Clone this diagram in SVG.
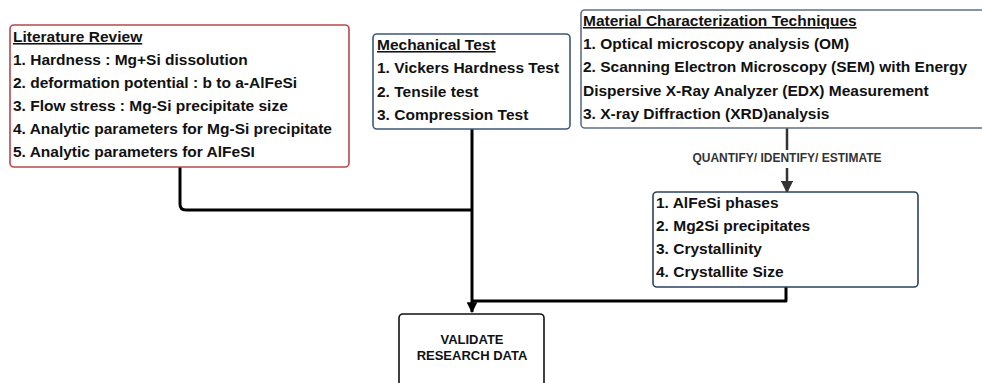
<svg xmlns="http://www.w3.org/2000/svg" width="982" height="383" viewBox="0 0 982 383">
<defs>
<style>
.t{font-family:"Liberation Sans",Arial,sans-serif;font-weight:bold;font-size:15.5px;fill:#111}
.u{text-decoration:underline}
.box{fill:#fff;stroke-width:1.6}
.conn{fill:none;stroke:#000;stroke-width:3;stroke-linejoin:round}
</style>
<marker id="ah" viewBox="0 0 10 10" refX="9" refY="5" markerWidth="3.6" markerHeight="3.6" orient="auto" markerUnits="strokeWidth">
<path d="M0,0 L10,5 L0,10 z" fill="#000"/>
</marker>
<marker id="ah2" viewBox="0 0 10 10" refX="9" refY="5" markerWidth="5" markerHeight="5" orient="auto" markerUnits="strokeWidth">
<path d="M0,0 L10,5 L0,10 z" fill="#333"/>
</marker>
</defs>
<rect width="982" height="383" fill="#fff"/>
<g id="connectors">
<path class="conn" d="M180,167 V204 Q180,210 186,210 H472"/>
<path class="conn" d="M472,129 V312" marker-end="url(#ah)"/>
<path class="conn" d="M786,287 V301 H472"/>
<path d="M787,128 V150" fill="none" stroke="#333" stroke-width="2.5"/>
<path d="M787,168 V192" fill="none" stroke="#333" stroke-width="2.5" marker-end="url(#ah2)"/>
<text x="787" y="162" text-anchor="middle" style="font-family:'Liberation Sans',Arial,sans-serif;font-weight:bold;font-size:12px;fill:#333">QUANTIFY/ IDENTIFY/ ESTIMATE</text>
</g>
<g id="literature">
<rect class="box" x="10" y="25" width="339" height="142" rx="4" stroke="#b8474a"/>
<text class="t u" x="13" y="42">Literature Review</text>
<text class="t" x="13" y="65">1. Hardness : Mg+Si dissolution</text>
<text class="t" x="13" y="88">2. deformation potential : b to a-AlFeSi</text>
<text class="t" x="13" y="111">3. Flow stress : Mg-Si precipitate size</text>
<text class="t" x="13" y="134">4. Analytic parameters for Mg-Si precipitate</text>
<text class="t" x="13" y="157">5. Analytic parameters for AlFeSI</text>
</g>
<g id="mechanical">
<rect class="box" x="373" y="34" width="197" height="95" rx="4" stroke="#3d5878"/>
<text class="t u" x="377" y="50">Mechanical Test</text>
<text class="t" x="377" y="73">1. Vickers Hardness Test</text>
<text class="t" x="377" y="97">2. Tensile test</text>
<text class="t" x="377" y="120">3. Compression Test</text>
</g>
<g id="material">
<rect class="box" x="581" y="10" width="410" height="118" rx="4" stroke="#5f7085"/>
<text class="t u" x="583" y="26">Material Characterization Techniques</text>
<text class="t" x="583" y="49">1. Optical microscopy analysis (OM)</text>
<text class="t" x="583" y="72">2. Scanning Electron Microscopy (SEM) with Energy</text>
<text class="t" x="583" y="96">Dispersive X-Ray Analyzer (EDX) Measurement</text>
<text class="t" x="583" y="119">3. X-ray Diffraction (XRD)analysis</text>
</g>
<g id="results">
<rect class="box" x="653" y="192" width="265" height="95" rx="4" stroke="#2a4260"/>
<text class="t" x="656" y="208">1. AlFeSi phases</text>
<text class="t" x="656" y="231">2. Mg2Si precipitates</text>
<text class="t" x="656" y="254">3. Crystallinity</text>
<text class="t" x="656" y="277">4. Crystallite Size</text>
</g>
<g id="validate">
<rect class="box" x="399" y="314" width="145" height="80" rx="4" stroke="#111"/>
<text class="t" x="472" y="344" text-anchor="middle" style="font-size:13px">VALIDATE</text>
<text class="t" x="472" y="360" text-anchor="middle" style="font-size:13px">RESEARCH DATA</text>
</g>
</svg>
